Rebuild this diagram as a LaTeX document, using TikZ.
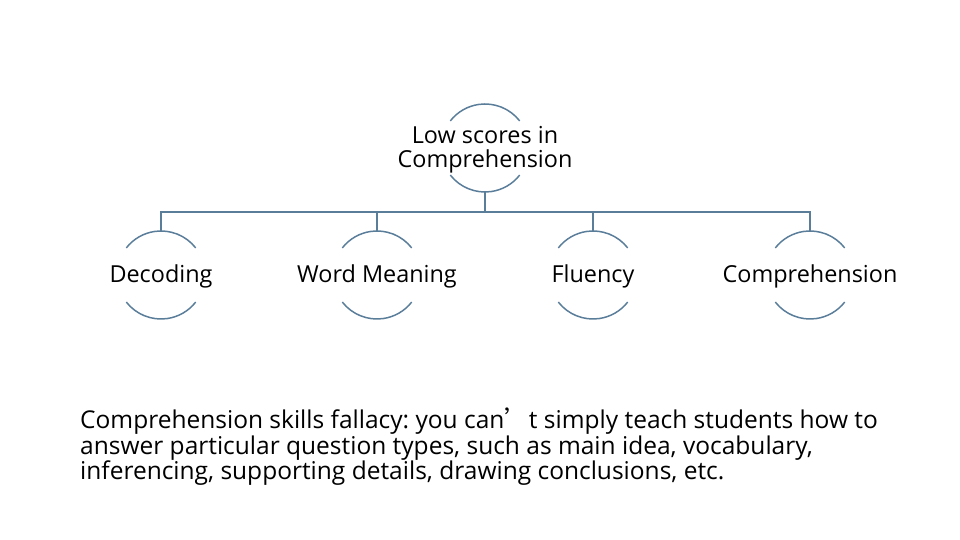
\documentclass[tikz,border=0pt]{standalone}
\usepackage{fontspec}
\setmainfont{Open Sans}
\newfontfamily\cjk{Noto Sans CJK SC}
\definecolor{linec}{HTML}{5A7D9A}
\frenchspacing
\begin{document}
\begin{tikzpicture}[x=1bp,y=1bp,
  ring/.style={circle,draw=none,minimum size=88bp,inner sep=0pt,outer sep=0pt},
  lbl/.style={font=\fontsize{23.5}{25}\selectfont,align=center,text=black,inner sep=0pt,anchor=base},
  conn/.style={draw=linec,line width=1.5bp},
  arcs/.style={draw=linec,line width=1.5bp}]
\useasboundingbox (0,0) rectangle (960,540);
\node[ring] (top) at (485,392) {};
\node[lbl] (toplbl) at (485,372) {Low scores in\\Comprehension};
\node[ring] (c1) at (161,265) {};
\node[ring] (c2) at (377,265) {};
\node[ring] (c3) at (593,265) {};
\node[ring] (c4) at (810,265) {};
\node[lbl] (l1) at (161,257) {Decoding};
\node[lbl] (l2) at (377,257) {Word Meaning};
\node[lbl] (l3) at (593,257) {Fluency};
\node[lbl] (l4) at (810,257) {Comprehension};
\foreach \n in {top,c1,c2,c3,c4}{
  \draw[arcs] (\n.38) arc[start angle=38,end angle=142,radius=44bp];
  \draw[arcs] (\n.218) arc[start angle=218,end angle=322,radius=44bp];
}
\coordinate (bus) at (485,328);
\draw[conn] (top.south) -- (bus);
\draw[conn] (c1.north) |- (bus);
\draw[conn] (c2.north) |- (bus);
\draw[conn] (c3.north) |- (bus);
\draw[conn] (c4.north) |- (bus);
\node[anchor=base west,align=left,inner sep=0pt,font=\fontsize{24.6}{25.7}\selectfont] (txt) at (80,60)
{Comprehension skills fallacy: you can{\cjk ’}t simply teach students how to\\
answer particular question types, such as main idea, vocabulary,\\
inferencing, supporting details, drawing conclusions, etc.};
\end{tikzpicture}
\end{document}
